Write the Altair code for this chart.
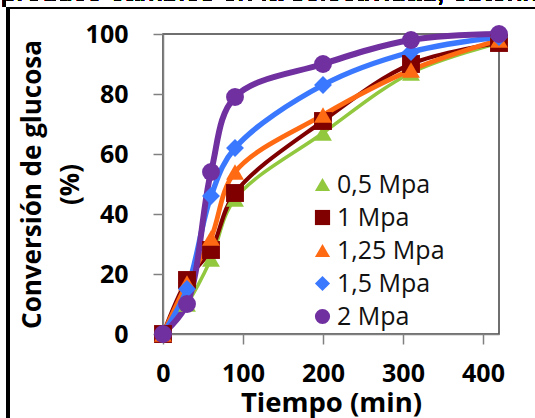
import altair as alt
import pandas as pd

times = [0, 30, 60, 90, 200, 310, 420]
series = ["0,5 Mpa", "1 Mpa", "1,25 Mpa", "1,5 Mpa", "2 Mpa"]
conv_05 = [0, 10, 25, 45, 67, 87, 97]
conv_1 = [0, 18, 28, 47, 71, 90, 97]
conv_125 = [0, 17, 32, 54, 73, 88, 98]
conv_15 = [0, 15, 46, 62, 83, 94, 99]
conv_2 = [0, 10, 54, 79, 90, 98, 100]
colors = ["#92C83E", "#800000", "#FF6A13", "#3A78FF", "#7030A0"]
shapes = ["triangle-up", "square", "triangle-up", "diamond", "circle"]
widths = [3.5, 6, 5.5, 4.5, 3]
x_ticks = [0, 100, 200, 300, 400]
y_ticks = [0, 20, 40, 60, 80, 100]

rows = []
for s, vals in zip(series, [conv_05, conv_1, conv_125, conv_15, conv_2]):
    for t, v in zip(times, vals):
        rows.append({"t": t, "v": v, "s": s})
df = pd.DataFrame(rows)

F = "Open Sans"
xenc = alt.X("t:Q", scale=alt.Scale(domain=[0, 420], nice=False),
             axis=alt.Axis(values=x_ticks, title="Tiempo (min)", labelFlush=False,
                           titleFontSize=27.5))
yenc = alt.Y("v:Q", scale=alt.Scale(domain=[0, 100], nice=False),
             axis=alt.Axis(values=y_ticks, title=["Conversión de glucosa", "(%)"],
                           labelFlush=False))

lines = alt.Chart(df).mark_line(interpolate="catmull-rom").encode(
    x=xenc, y=yenc,
    color=alt.Color("s:N", scale=alt.Scale(domain=series, range=colors), legend=None),
    strokeWidth=alt.StrokeWidth("s:N", scale=alt.Scale(domain=series, range=widths), legend=None),
    detail="s:N",
)

points = alt.Chart(df).mark_point(filled=True, opacity=1, size=320).encode(
    x="t:Q", y="v:Q",
    color=alt.Color("s:N", scale=alt.Scale(domain=series, range=colors),
                    legend=alt.Legend(title=None, orient="none", legendX=147, legendY=138,
                                      labelFont=F, labelFontSize=25, labelColor="#111",
                                      symbolSize=230, rowPadding=7, labelOffset=2,
                                      symbolStrokeWidth=0, symbolOpacity=1)),
    shape=alt.Shape("s:N", scale=alt.Scale(domain=series, range=shapes)),
)

frame_left = alt.Chart(df).mark_rule(color="black", strokeWidth=3).encode(
    x=alt.value(-155), y=alt.value(-27), y2=alt.value(400))
frame_top = alt.Chart(df).mark_rule(color="black", strokeWidth=2).encode(
    x=alt.value(-157), x2=alt.value(380), y=alt.value(-26))
top_text = alt.Chart(df).mark_text(
    text="produce cambios en la selectividad, obteniendo", font="Liberation Sans",
    fontSize=28, align="left", baseline="alphabetic", color="black"
).encode(x=alt.value(-162), y=alt.value(-33))

chart = alt.layer(frame_left, frame_top, top_text, lines, points).resolve_scale(
    color="independent", shape="independent", strokeWidth="independent"
).properties(
    width=336, height=300,
    autosize=alt.AutoSizeParams(type="none"),
    padding={"left": 163, "top": 34, "right": 36, "bottom": 84},
).configure_view(stroke="#404040", strokeWidth=1.5).configure_axis(
    grid=False, domainColor="#808080", domainWidth=1.5, tickColor="#808080",
    tickWidth=1.5, tickSize=10, labelFont=F, labelFontSize=25, labelFontWeight="bold",
    labelColor="black", titleFont=F, titleFontSize=26, titleFontWeight="bold",
    titleColor="black",
).configure_axisY(labelPadding=25, titlePadding=2, titleLineHeight=38).configure_axisX(
    labelPadding=17, titlePadding=3
)

chart.save("out.html", embed_options={"renderer": "svg", "actions": False})
